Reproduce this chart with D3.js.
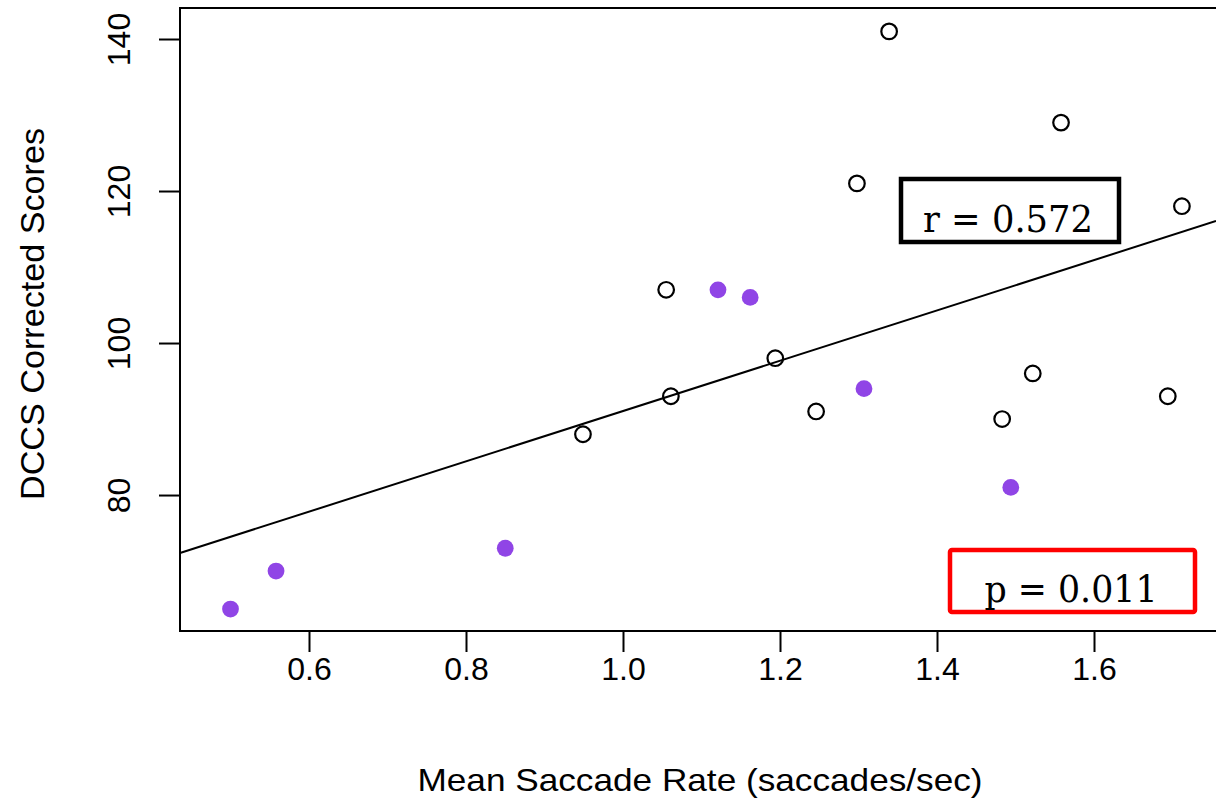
<!DOCTYPE html>
<html>
<head>
<meta charset="utf-8">
<script src="https://cdn.jsdelivr.net/npm/d3@7"></script>
<style>
  html, body { margin: 0; padding: 0; background: #fff; }
  svg { display: block; }
</style>
</head>
<body>
<svg id="chart" width="1216" height="802"></svg>
<script>
// Data
const openX = [1.339, 1.558, 1.298, 1.712, 1.055, 1.194, 1.061, 0.949, 1.246, 1.522, 1.483, 1.694];
const openY = [141, 129, 121, 118, 107, 98, 93, 88, 91, 96, 90, 93];
const filledX = [1.121, 1.162, 1.307, 1.494, 0.850, 0.558, 0.500];
const filledY = [107, 106, 94, 81, 73, 70, 65];
const xTicks = [0.6, 0.8, 1.0, 1.2, 1.4, 1.6];
const yTicks = [80, 100, 120, 140];
const fitIntercept = 57.95;
const fitSlope = 33.1;
const rLabel = "r = 0.572";
const pLabel = "p = 0.011";
const xTitle = "Mean Saccade Rate (saccades/sec)";
const yTitle = "DCCS Corrected Scores";

(function () {
const svg = d3.select("#chart");
const pLeft = 180, pRight = 1216, pTop = 8, pBottom = 631;

const x = d3.scaleLinear().domain([0.43567, 1.75541]).range([pLeft, pRight]);
const y = d3.scaleLinear().domain([62.11, 144.08]).range([pBottom, pTop]);

// plot frame (extends past right edge as in reference)
svg.append("rect")
  .attr("x", pLeft).attr("y", pTop)
  .attr("width", pRight - pLeft + 20).attr("height", pBottom - pTop)
  .attr("fill", "none").attr("stroke", "#000").attr("stroke-width", 2);

// x axis
const xAxis = d3.axisBottom(x).tickValues(xTicks).tickSize(21).tickPadding(5)
  .tickFormat(d3.format(".1f"));
const gx = svg.append("g").attr("transform", `translate(0,${pBottom})`).call(xAxis);
gx.select(".domain").remove();
gx.selectAll(".tick line").attr("stroke", "#000").attr("stroke-width", 2);
gx.selectAll(".tick text")
  .attr("font-family", "Liberation Sans, Arial, sans-serif")
  .attr("font-size", 32).attr("fill", "#000")
  .attr("dy", "0.71em");

// y axis
const yAxis = d3.axisLeft(y).tickValues(yTicks).tickSize(21).tickPadding(6);
const gy = svg.append("g").attr("transform", `translate(${pLeft},0)`).call(yAxis);
gy.select(".domain").remove();
gy.selectAll(".tick line").attr("stroke", "#000").attr("stroke-width", 2);
gy.selectAll(".tick text")
  .attr("font-family", "Liberation Sans, Arial, sans-serif")
  .attr("font-size", 32).attr("fill", "#000")
  .attr("text-anchor", "middle")
  .attr("x", null).attr("dy", null)
  .attr("transform", "translate(-50,0) rotate(-90)");

// regression line
const xd = x.domain();
svg.append("line")
  .attr("x1", x(xd[0])).attr("y1", y(fitIntercept + fitSlope * xd[0]))
  .attr("x2", x(xd[1])).attr("y2", y(fitIntercept + fitSlope * xd[1]))
  .attr("stroke", "#000").attr("stroke-width", 2);

// open points
svg.append("g").selectAll("circle")
  .data(d3.zip(openX, openY)).join("circle")
  .attr("cx", d => x(d[0])).attr("cy", d => y(d[1]))
  .attr("r", 7.8).attr("fill", "none")
  .attr("stroke", "#000").attr("stroke-width", 2.2);

// filled purple points
svg.append("g").selectAll("circle")
  .data(d3.zip(filledX, filledY)).join("circle")
  .attr("cx", d => x(d[0])).attr("cy", d => y(d[1]))
  .attr("r", 8.4).attr("fill", "#9045e6");

// annotation boxes
svg.append("rect")
  .attr("x", 901).attr("y", 179).attr("width", 218).attr("height", 63)
  .attr("fill", "#fff").attr("stroke", "#000").attr("stroke-width", 4.5);
svg.append("text")
  .attr("x", 1008).attr("y", 232).attr("text-anchor", "middle")
  .attr("font-family", "DejaVu Serif, serif").attr("font-size", 37)
  .attr("textLength", 170).attr("lengthAdjust", "spacingAndGlyphs")
  .text(rLabel);

svg.append("rect")
  .attr("x", 950).attr("y", 550).attr("width", 245).attr("height", 62)
  .attr("rx", 2)
  .attr("fill", "none").attr("stroke", "#ff0000").attr("stroke-width", 4.5);
svg.append("text")
  .attr("x", 1071).attr("y", 602).attr("text-anchor", "middle")
  .attr("font-family", "DejaVu Serif, serif").attr("font-size", 37)
  .attr("textLength", 173).attr("lengthAdjust", "spacingAndGlyphs")
  .text(pLabel);

// axis titles
svg.append("text")
  .attr("x", 700).attr("y", 791).attr("text-anchor", "middle")
  .attr("font-family", "Liberation Sans, Arial, sans-serif").attr("font-size", 32)
  .attr("textLength", 565).attr("lengthAdjust", "spacingAndGlyphs")
  .text(xTitle);

svg.append("text")
  .attr("transform", "translate(44,314) rotate(-90)")
  .attr("text-anchor", "middle")
  .attr("font-family", "Liberation Sans, Arial, sans-serif").attr("font-size", 33)
  .attr("textLength", 372).attr("lengthAdjust", "spacingAndGlyphs")
  .text(yTitle);
})();
</script>
</body>
</html>
